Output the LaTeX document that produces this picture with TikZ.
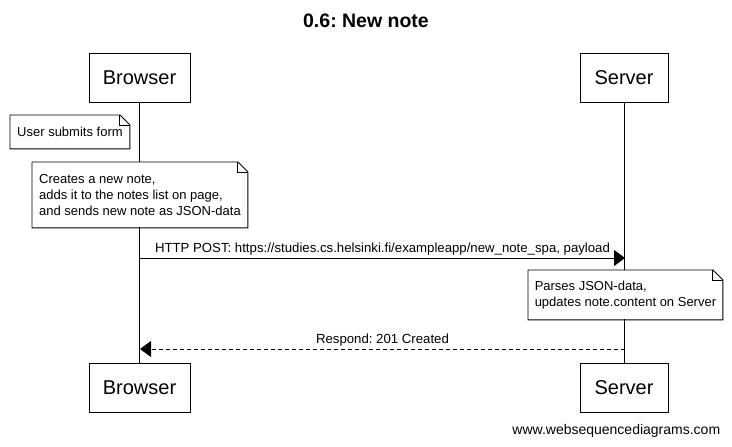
\documentclass[tikz,border=0pt]{standalone}
\usepackage{fontspec}
\setmainfont{Liberation Sans}
\usetikzlibrary{arrows.meta,positioning}
\frenchspacing

\begin{document}
\begin{tikzpicture}[x=1pt, y=-1pt, line width=0.9pt]
\tikzstyle{actor} = [rectangle, draw, fill=white, minimum width=101pt, minimum height=49pt, font=\fontsize{20}{24}\selectfont]
\tikzstyle{notebox} = [rectangle, fill=white, anchor=north west, align=left, inner xsep=6pt, font=\fontsize{13}{16}\selectfont]
\tikzstyle{msg} = [-{Triangle[length=11pt,width=16pt]}]
\tikzstyle{msgtext} = [font=\fontsize{13.2}{15}\selectfont, midway, above, inner sep=2pt]

\useasboundingbox (0,0) rectangle (732,447);

\node [font=\bfseries\fontsize{19.5}{22}\selectfont] (title) at (366,21) {0.6: New note};

% participants
\node [actor] (browser) at (139.5,77.5) {Browser};
\node [actor, minimum width=88pt] (server) at (624,77.5) {Server};
\node [actor] (browserend) at (139.5,387.5) {Browser};
\node [actor, minimum width=88pt] (serverend) at (624,387.5) {Server};

% lifelines
\draw (browser) -- (browserend);
\draw (server) -- (serverend);

% notes
\node [notebox, minimum width=119pt, minimum height=33pt] (submit) at (10,115) {User submits form};
\node [notebox, minimum width=215pt, minimum height=65pt] (create) at (32,162) {Creates a new note,\\adds it to the notes list on page,\\and sends new note as JSON-data};
\node [notebox, minimum width=194pt, minimum height=49pt] (parse) at (528,270) {Parses JSON-data,\\updates note.content on Server};
\foreach \n in {submit,create,parse} {
  \draw ([xshift=-10pt]\n.north east) -- ([yshift=-10pt]\n.north east) -- (\n.south east) -- (\n.south west) -- (\n.north west) -- cycle;
  \draw ([xshift=-10pt]\n.north east) -- ([xshift=-10pt, yshift=-10pt]\n.north east) -- ([yshift=-10pt]\n.north east);
}

% messages
\coordinate (postfrom) at (140,258);
\coordinate (postto) at (625,258);
\draw [msg] (postfrom) -- (postto) node[msgtext] {HTTP POST: https://studies.cs.helsinki.fi/exampleapp/new\_note\_spa, payload};
\coordinate (respfrom) at (625,349);
\coordinate (respto) at (140,349);
\draw [msg, dashed, dash pattern=on 4pt off 3pt] (respfrom) -- (respto) node[msgtext] {Respond: 201 Created};

\node [font=\fontsize{14}{16}\selectfont, anchor=east] (footer) at (724,431) {www.websequencediagrams.com};
\end{tikzpicture}
\end{document}
